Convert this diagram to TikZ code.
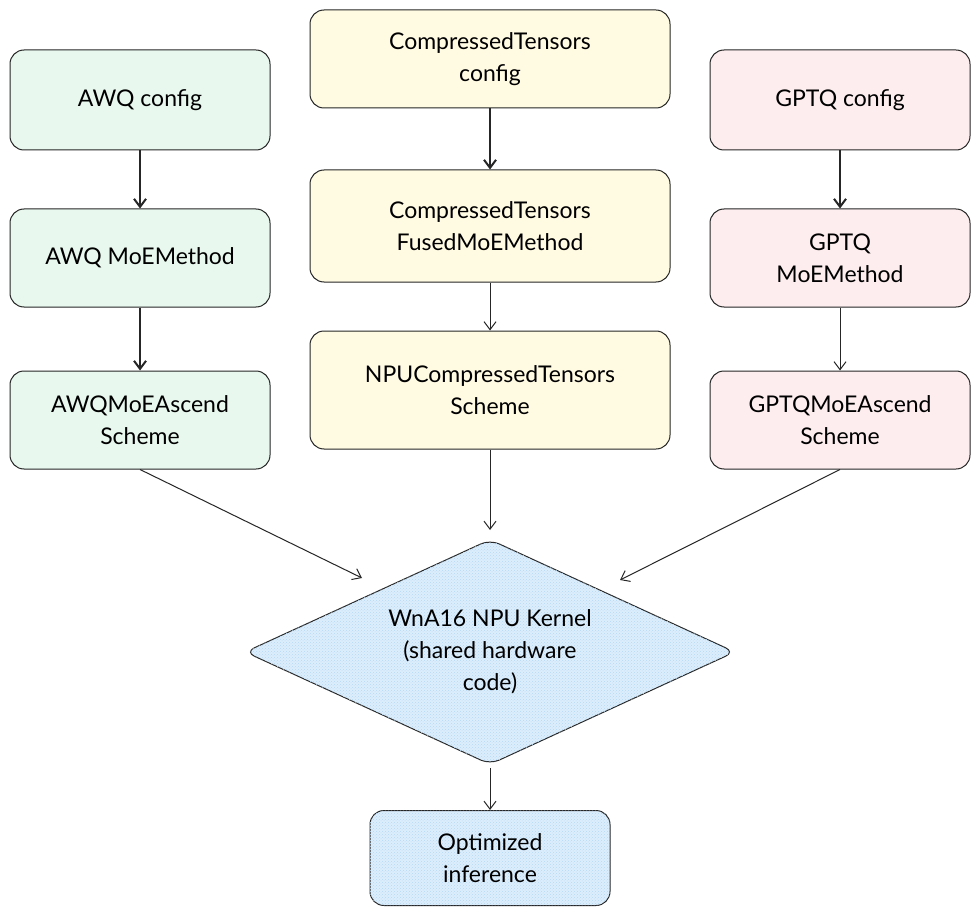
\documentclass[tikz,border=0pt]{standalone}
\usepackage{fontspec}
\setmainfont{Lato}
\usetikzlibrary{shapes.geometric,arrows.meta,patterns}
\definecolor{gf}{HTML}{E8F8EE}
\definecolor{yf}{HTML}{FFFBE3}
\definecolor{pf}{HTML}{FDEDEE}
\definecolor{bf}{HTML}{DCEEFC}
\definecolor{bh}{HTML}{B5D8F5}
\begin{document}
\begin{tikzpicture}[x=1pt,y=-1pt,
 box/.style={draw=black!85,line width=1pt,rounded corners=14pt,align=center,font=\fontsize{23}{32}\selectfont,inner sep=0pt},
 g/.style={box,fill=gf},
 yy/.style={box,fill=yf},
 p/.style={box,fill=pf},
 bl/.style={fill=bf,postaction={pattern=crosshatch dots,pattern color=bh}},
 ar/.style={-{Straight Barb[length=8pt,width=12pt]},line width=1pt,black!85},
 tar/.style={ar,line width=2pt}]
\useasboundingbox (0,0) rectangle (980,920);
\fill[white] (0,0) rectangle (980,920);
\node[g,minimum width=260pt,minimum height=100pt] (a1) at (140,100) {AWQ config};
\node[g,minimum width=260pt,minimum height=98pt] (a2) at (140,258) {AWQ MoEMethod};
\node[g,minimum width=260pt,minimum height=98pt] (a3) at (140,420) {AWQMoEAscend\\Scheme};
\node[yy,minimum width=360pt,minimum height=98pt] (c1) at (490,59) {CompressedTensors\\config};
\node[yy,minimum width=360pt,minimum height=112pt] (c2) at (490,226) {CompressedTensors\\FusedMoEMethod};
\node[yy,minimum width=360pt,minimum height=118pt] (c3) at (490,390) {NPUCompressedTensors\\Scheme};
\node[p,minimum width=260pt,minimum height=100pt] (g1) at (840,100) {GPTQ config};
\node[p,minimum width=260pt,minimum height=98pt] (g2) at (840,258) {GPTQ\\MoEMethod};
\node[p,minimum width=260pt,minimum height=98pt] (g3) at (840,420) {GPTQMoEAscend\\Scheme};
\node[draw=black!85,line width=1pt,diamond,aspect=2.18,minimum width=490pt,minimum height=225pt,inner sep=0pt,bl,align=center,font=\fontsize{23}{32}\selectfont,rounded corners=10pt] (d) at (490,652) {WnA16 NPU Kernel\\(shared hardware\\code)};
\node[box,bl,minimum width=240pt,minimum height=95pt] (o) at (490,858) {Optimized\\inference};
\draw[tar] (a1) -- (a2);
\draw[tar] (a2) -- (a3);
\draw[tar] (c1) -- (c2);
\draw[ar] (c2) -- (c3);
\draw[tar] (g1) -- (g2);
\draw[ar] (g2) -- (g3);
\coordinate (dl) at (362,578);
\coordinate (dr) at (620,580);
\coordinate (dt) at (490,530);
\draw[ar] (a3.south) -- (dl);
\draw[ar] (g3.south) -- (dr);
\draw[ar] (c3.south) -- (dt);
\draw[ar] (d.south) ++(0,3) -- (o.north);
\end{tikzpicture}
\end{document}
